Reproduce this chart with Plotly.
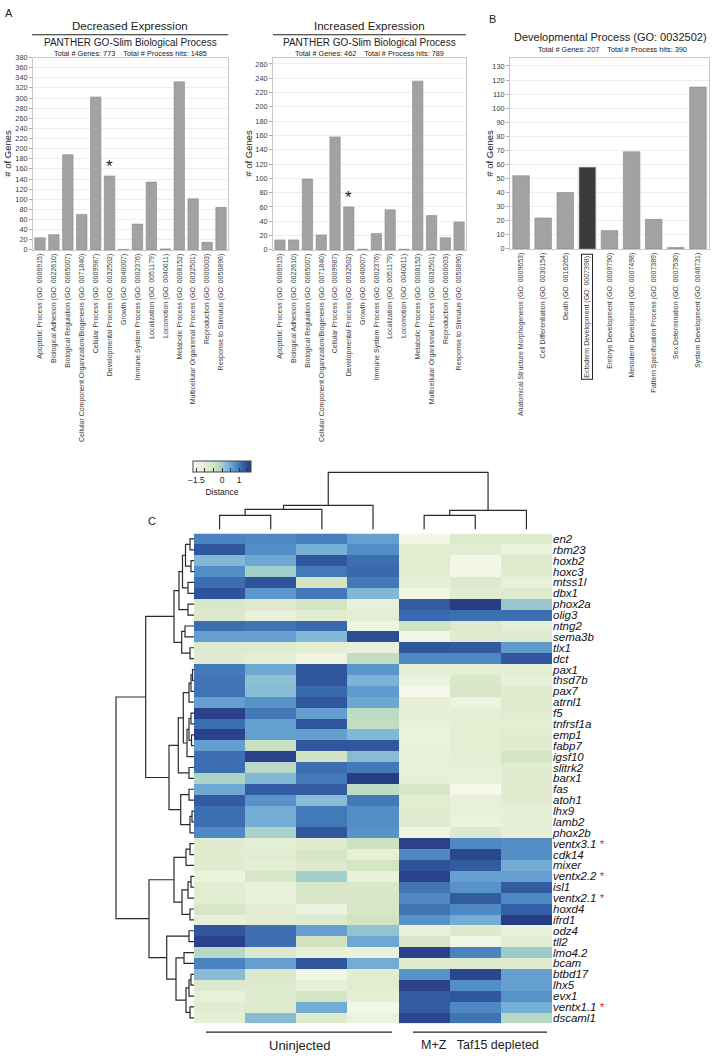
import plotly.graph_objects as go

W, H = 719, 1061
def px(x): return x / W
def py(y): return 1 - y / H

FONT = "Liberation Sans"

# ---------------- Panel A / B data ----------------
bp_categories = [
    "Apoptotic Process (GO: 0006915)", "Biological Adhesion (GO: 0022610)",
    "Biological Regulation (GO: 0065007)",
    "Cellular Component Organization/Biogenesis (GO: 0071840)",
    "Cellular Process (GO: 0009987)", "Developmental Process (GO: 0032502)",
    "Growth (GO: 0040007)", "Immune System Process (GO: 0002376)",
    "Localization (GO: 0051179)", "Locomotion (GO: 0040011)",
    "Metabolic Process (GO: 0008152)",
    "Multicellular Organismal Process (GO: 0032501)",
    "Reproduction (GO: 0000003)", "Response to Stimulus (GO: 0050896)"]
decreased = [24, 30, 188, 70, 302, 146, 1, 51, 134, 2, 332, 101, 15, 84]
increased = [14, 14, 99, 21, 158, 60, 1, 23, 56, 1, 236, 48, 17, 39]

dev_categories = [
    "Anatomical Structure Morphogenesis (GO: 0009653)",
    "Cell Differentiation (GO: 0030154)", "Death (GO: 0016265)",
    "Ectoderm Development (GO: 0007398)", "Embryo Development (GO: 0009790)",
    "Mesoderm Development (GO: 0007498)",
    "Pattern Specification Process (GO: 0007389)",
    "Sex Determination (GO: 0007530)", "System Development (GO: 0048731)"]
dev_counts = [52, 22, 40, 58, 13, 69, 21, 1, 115]
highlight_dev = "Ectoderm Development (GO: 0007398)"
starred_bp = "Developmental Process (GO: 0032502)"

# ---------------- Panel C data ----------------
genes = ["en2", "rbm23", "hoxb2", "hoxc3", "mtss1l", "dbx1", "phox2a", "olig3",
         "ntng2", "sema3b", "tlx1", "dct", "pax1", "thsd7b", "pax7", "atrnl1",
         "f5", "tnfrsf1a", "emp1", "fabp7", "igsf10", "slitrk2", "barx1", "fas",
         "atoh1", "lhx9", "lamb2", "phox2b", "ventx3.1", "cdk14", "mixer",
         "ventx2.2", "isl1", "ventx2.1", "hoxd4", "ifrd1", "odz4", "tll2",
         "lmo4.2", "bcam", "btbd17", "lhx5", "evx1", "ventx1.1", "dscaml1"]
starred_genes = ["ventx3.1", "ventx2.2", "ventx2.1", "ventx1.1"]
samples = ["Uninj 1", "Uninj 2", "Uninj 3", "Uninj 4", "MZ 1", "MZ 2", "MZ 3"]
z_values = [
    [0.9, 0.85, 0.95, 0.6, -1.5, -0.8, -0.8],
    [1.35, 0.8, 0.4, 0.8, -0.9, -0.9, -1.2],
    [0.3, 0.5, 1.35, 1.1, -0.9, -1.5, -0.8],
    [0.8, 0.0, 1.0, 1.15, -0.9, -1.45, -0.85],
    [1.1, 1.4, -0.5, 1.0, -1.0, -0.8, -1.1],
    [1.4, 0.7, 1.0, 0.3, -1.4, -0.9, -0.8],
    [-0.7, -0.8, -0.55, -1.1, 1.3, 1.65, 0.1],
    [-0.75, -1.15, -0.9, -1.0, 1.15, 1.1, 1.1],
    [1.1, 1.05, 1.15, -1.3, -0.4, -0.8, -1.0],
    [0.6, 0.6, 0.3, 1.45, -1.4, -0.85, -0.8],
    [-0.8, -0.8, -0.95, -1.15, 1.35, 1.3, 0.65],
    [-0.85, -1.0, -1.3, -0.3, 0.85, 0.85, 1.35],
    [1.0, 0.5, 1.35, 0.7, -1.0, -1.0, -0.95],
    [1.05, 0.2, 1.35, 0.35, -1.2, -0.7, -1.1],
    [1.05, 0.25, 1.15, 0.65, -1.6, -0.6, -0.85],
    [0.6, 0.75, 1.35, 0.5, -1.0, -1.25, -0.85],
    [1.6, 1.0, 0.6, -0.25, -1.05, -1.0, -0.85],
    [1.1, 0.6, 1.35, -0.3, -1.1, -0.95, -0.95],
    [1.6, 0.6, 0.6, 0.3, -1.2, -0.95, -0.85],
    [0.6, -0.35, 1.35, 1.35, -1.15, -0.95, -0.85],
    [1.1, 1.6, -0.5, 0.25, -1.1, -0.95, -0.55],
    [1.1, -0.2, 1.1, 1.0, -1.1, -1.05, -0.85],
    [-0.1, 0.3, 1.0, 1.65, -1.0, -1.1, -0.85],
    [0.5, 1.3, 1.3, -0.25, -0.6, -1.6, -0.85],
    [1.3, 0.75, 0.25, 1.0, -0.9, -1.1, -0.85],
    [1.1, 0.45, 1.0, 0.8, -0.85, -1.1, -1.0],
    [1.1, 0.45, 1.0, 0.8, -0.8, -1.2, -1.0],
    [0.85, -0.05, 1.35, 0.75, -1.35, -0.75, -1.05],
    [-0.85, -1.0, -0.85, -0.4, 1.6, 0.85, 0.8],
    [-0.85, -0.9, -0.6, -1.05, 0.85, 1.55, 0.8],
    [-0.85, -1.0, -0.75, -0.55, 1.4, 1.3, 0.45],
    [-1.2, -0.6, 0.0, -1.15, 1.6, 0.6, 0.6],
    [-0.9, -1.1, -0.65, -0.7, 1.05, 0.75, 1.3],
    [-0.9, -1.15, -0.7, -0.65, 0.85, 1.3, 0.85],
    [-0.6, -0.9, -1.2, -0.65, 1.05, 0.85, 1.25],
    [-1.1, -0.85, -0.8, -0.45, 0.75, 0.45, 1.65],
    [1.35, 1.1, 0.6, 0.15, -1.15, -0.75, -1.15],
    [1.6, 1.1, -0.45, 0.5, -0.6, -1.4, -0.9],
    [-0.2, -0.75, -1.1, -1.15, 1.6, 0.9, 0.05],
    [0.9, 0.6, 1.35, 0.45, -0.85, -0.85, -0.85],
    [0.25, -0.75, -1.45, -0.9, 0.75, 1.55, 0.6],
    [-0.75, -0.8, -1.1, -0.85, 1.6, 0.8, 0.6],
    [-1.1, -0.8, -0.55, -1.0, 1.3, 1.35, 0.75],
    [-0.9, -0.8, 0.45, -1.5, 1.3, 0.85, 0.4],
    [-1.0, 0.25, -0.8, -1.2, 1.55, 1.05, -0.2],
]

# dendrogram trees: leaf = index, node = (merge height, left, right)
col_tree = (56.7, (24, (20, (14, 0, 1), 2), 3), (19, (14, 4, 5), 6))
row_tree = (78,
    (48.3,
        (20,
            (15, (11.5, (8.5, (4, 0, 1), (3, 2, 3)), (6, 4, 5)), (6, 6, 7)),
            (12.3, (9, 8, 9), (4, 10, 11))),
        (25,
            (15.7,
                (10.7,
                    (5, (3, (1.5, 12, 13), 14), 15),
                    (7, (5, (3, 16, 17), (2.5, 18, 19)), 20)),
                (5, 21, 22)),
            (13.3, (5, 23, 24), (4, (2, 25, 26), 27)))),
    (45,
        (20, (8, (4, 28, 29), 30), (12, (6, (3, 31, 32), 33), (4, 34, 35))),
        (27.3, (5, 36, 37),
            (18, (10, 38, 39), (8, (5, (3, 40, 41), 42), (4, 43, 44))))))


def dendro(node):
    if isinstance(node, int):
        return float(node), 0.0, []
    h, a, b = node
    pa, ha, sa = dendro(a)
    pb, hb, sb = dendro(b)
    segs = sa + sb + [[(pa, ha), (pa, h), (pb, h), (pb, hb)]]
    return (pa + pb) / 2, h, segs


fig = go.Figure()

BAR_COLOR = "#a2a2a2"
BAR_LINE = "#8a8a8a"

fig.add_trace(go.Bar(x=bp_categories, y=decreased, marker=dict(color=BAR_COLOR, line=dict(color=BAR_LINE, width=0.6)),
                     xaxis="x", yaxis="y", showlegend=False))
fig.add_trace(go.Bar(x=bp_categories, y=increased, marker=dict(color=BAR_COLOR, line=dict(color=BAR_LINE, width=0.6)),
                     xaxis="x2", yaxis="y2", showlegend=False))
dev_colors = ["#3b3b3b" if c == highlight_dev else BAR_COLOR for c in dev_categories]
fig.add_trace(go.Bar(x=dev_categories, y=dev_counts, marker=dict(color=dev_colors, line=dict(color=BAR_LINE, width=0.6)),
                     xaxis="x3", yaxis="y3", showlegend=False))

# heatmap
colorscale = [[0.0, "#f8faef"], [0.2, "#e6efd6"], [0.38, "#cfe2bf"], [0.5, "#a3cfca"],
              [0.6, "#7db5d8"], [0.73, "#5490c8"], [0.86, "#3461a9"], [1.0, "#263a80"]]
fig.add_trace(go.Heatmap(
    z=z_values, x=list(range(len(samples))), y=list(range(len(genes))),
    zmin=-1.7, zmax=1.7, colorscale=colorscale, xaxis="x4", yaxis="y4",
    colorbar=dict(orientation="h", x=px(193), xanchor="left", y=py(461), yanchor="top",
                  len=58, lenmode="pixels", thickness=11, thicknessmode="pixels",
                  tickvals=[-1.5, -1, -0.5, 0, 0.5, 1, 1.5],
                  ticktext=["\u22121.5", "", "", "0", "", "1", ""],
                  ticks="inside", ticklen=4, tickcolor="#333", tickwidth=1,
                  tickfont=dict(size=8.5, family=FONT, color="#222"),
                  outlinewidth=1, outlinecolor="#444", xpad=0, ypad=0,
                  title=dict(text="Distance", side="bottom", font=dict(size=8.5, family=FONT, color="#222")))))

# column dendrogram
_, _, csegs = dendro(col_tree)
cx, cy = [], []
for s in csegs:
    for p, hh in s:
        cx.append(p); cy.append(hh)
    cx.append(None); cy.append(None)
fig.add_trace(go.Scatter(x=cx, y=cy, mode="lines", line=dict(color="#2a2a2a", width=1.2),
                         xaxis="x4", yaxis="y5", showlegend=False, hoverinfo="skip"))

# row dendrogram
_, _, rsegs = dendro(row_tree)
rx, ry = [], []
for s in rsegs:
    for p, hh in s:
        rx.append(hh); ry.append(p)
    rx.append(None); ry.append(None)
fig.add_trace(go.Scatter(x=rx, y=ry, mode="lines", line=dict(color="#2a2a2a", width=1.2),
                         xaxis="x6", yaxis="y4", showlegend=False, hoverinfo="skip"))

TICKF = dict(size=7, family=FONT, color="#3a3a3a")
YTICKF = dict(size=7.3, family=FONT, color="#3a3a3a")
def bar_x(domain, anchor, cats, ticktext=None):
    d = dict(domain=domain, anchor=anchor, type="category", tickangle=-90, tickfont=TICKF,
             showline=True, linecolor="#c8c8c8", linewidth=1, mirror=True, ticks="",
             showgrid=False, fixedrange=True)
    if ticktext is not None:
        d.update(tickmode="array", tickvals=cats, ticktext=ticktext)
    return d

def bar_y(domain, anchor, rng, dtick):
    return dict(domain=domain, anchor=anchor, range=rng, dtick=dtick, tickfont=YTICKF,
                showgrid=True, gridcolor="#ededed", gridwidth=1, showline=True,
                linecolor="#c8c8c8", linewidth=1, mirror=True, ticks="outside", ticklen=3,
                tickcolor="#b0b0b0", zeroline=False)

ydom = [py(248), py(54)]
dev_ticktext = ["" if c == highlight_dev else c for c in dev_categories]

fig.update_layout(
    width=W, height=H, autosize=False, margin=dict(l=0, r=0, t=0, b=0),
    paper_bgcolor="white", plot_bgcolor="white", bargap=0.25,
    font=dict(family=FONT, color="#222"),
    xaxis=bar_x([px(33), px(228)], "y", bp_categories),
    yaxis=bar_y(ydom, "x", [0, 380], 20),
    xaxis2=bar_x([px(273), px(466)], "y2", bp_categories),
    yaxis2=bar_y(ydom, "x2", [0, 269], 20),
    xaxis3=bar_x([px(510), px(709)], "y3", dev_categories, dev_ticktext),
    yaxis3=bar_y([py(247), py(54)], "x3", [0, 136], 10),
    xaxis4=dict(domain=[px(194), px(552)], anchor="y4", range=[-0.5, 6.5], showticklabels=False,
                showgrid=False, zeroline=False, ticks=""),
    yaxis4=dict(domain=[py(1028), py(534)], anchor="x4", range=[44.5, -0.5], side="right",
                tickmode="array", tickvals=list(range(len(genes))),
                ticktext=[(f"<i>{g}</i> <span style='color:#e8283a'>*</span>" if g in starred_genes else f"<i>{g}</i>")
                          for g in genes],
                tickfont=dict(size=11.5, family=FONT, color="#111"), ticks="",
                showgrid=False, zeroline=False),
    yaxis5=dict(domain=[py(530), py(471)], anchor="x4", range=[0, 58], visible=False),
    xaxis6=dict(domain=[px(113), px(194)], anchor="y4", range=[81, 0], visible=False),
)

ann = []
def A(x, y, text, size, **kw):
    d = dict(x=px(x), y=py(y), xref="paper", yref="paper", text=text, showarrow=False,
             xanchor="center", yanchor="middle",
             font=dict(size=size, family=FONT, color=kw.pop("color", "#222")))
    d.update(kw)
    ann.append(d)

A(3, 9, "A", 11, xanchor="left")
A(487, 15, "B", 11, xanchor="left")
A(146, 521, "C", 11, xanchor="left")
A(130, 22, "Decreased Expression", 11.5)
A(130, 38.5, "PANTHER GO-Slim Biological Process", 10)
A(130, 49.5, "Total # Genes: 773&nbsp;&nbsp;&nbsp;&nbsp;Total # Process hits: 1485", 7.3)
A(369, 22, "Increased Expression", 11.5)
A(369, 38.5, "PANTHER GO-Slim Biological Process", 10)
A(369, 49.5, "Total # Genes: 462&nbsp;&nbsp;&nbsp;&nbsp;Total # Process hits: 789", 7.3)
A(610, 33, "Developmental Process (GO: 0032502)", 11)
A(612, 45.5, "Total # Genes: 207&nbsp;&nbsp;&nbsp;&nbsp;Total # Process hits: 390", 7.3)
for xx, yy in [(8, 151), (249, 151), (490, 151)]:
    A(xx, yy, "# of Genes", 9.5, textangle=-90)
A(299, 1050, "Uninjected", 13)
A(480, 1050, "M+Z&nbsp;&nbsp;&nbsp;Taf15 depleted", 12.5)

# asterisks above developmental process bars
for xr, yr, vals in [("x", "y", decreased), ("x2", "y2", increased)]:
    i = bp_categories.index(starred_bp)
    ann.append(dict(x=starred_bp, y=vals[i], xref=xr, yref=yr, text="*", showarrow=False,
                    xanchor="center", yanchor="bottom", yshift=-2,
                    font=dict(size=17, family=FONT, color="#222")))

# boxed ectoderm label
ann.append(dict(x=highlight_dev, y=py(251.5), xref="x3", yref="paper", text=highlight_dev,
                textangle=-90, xanchor="center", yanchor="top", showarrow=False,
                bordercolor="#222", borderwidth=1, borderpad=1, font=TICKF))

fig.update_layout(annotations=ann)

shapes = []
for x0, x1, y0 in [(32, 228, 31), (273, 466, 31), (206, 392, 1037), (413, 547, 1037)]:
    shapes.append(dict(type="line", xref="paper", yref="paper", x0=px(x0), x1=px(x1),
                       y0=py(y0), y1=py(y0), line=dict(color="#222", width=1.2)))
fig.update_layout(shapes=shapes)

fig.write_html("out.html", config={"displayModeBar": False},
               post_script="document.body.style.margin='0px';")
